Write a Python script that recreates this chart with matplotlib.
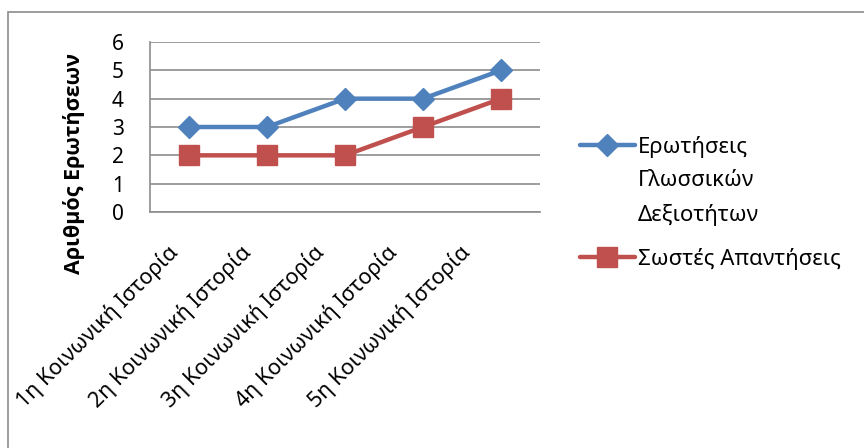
import matplotlib
matplotlib.use("Agg")
import matplotlib.pyplot as plt
import matplotlib.transforms as mtransforms
from matplotlib.patches import Rectangle
from matplotlib.lines import Line2D

plt.rcParams['font.family'] = ['Noto Sans', 'DejaVu Sans']

categories = ["1η Κοινωνική Ιστορία", "2η Κοινωνική Ιστορία", "3η Κοινωνική Ιστορία",
              "4η Κοινωνική Ιστορία", "5η Κοινωνική Ιστορία"]
questions = [3, 3, 4, 4, 5]
correct = [2, 2, 2, 3, 4]
y_ticks = [0, 1, 2, 3, 4, 5, 6]
series_names = ["Ερωτήσεις\nΓλωσσικών\nΔεξιοτήτων", "Σωστές Απαντήσεις"]
y_label = "Αριθμός Ερωτήσεων"

blue = "#4F81BD"
red = "#C0504D"
W, H = 864, 448

fig = plt.figure(figsize=(W / 100, H / 100), dpi=100)
ax = fig.add_axes([150 / W, 1 - 212 / H, 390 / W, 170 / H])

x = list(range(len(categories)))
ax.plot(x, questions, color=blue, lw=3.2, marker='D', ms=11, solid_joinstyle='round')
ax.plot(x, correct, color=red, lw=3.2, marker='s', ms=14, solid_joinstyle='round')

ax.set_xlim(-0.5, len(categories) - 0.5)
ax.set_ylim(0, 6)
ax.set_yticks(y_ticks)
ax.set_yticklabels([str(v) for v in y_ticks], fontsize=15)
ax.set_xticks(x)
ax.set_xticklabels(categories, rotation=45, ha='right', va='center',
                   rotation_mode='anchor', fontsize=15.5)
ax.tick_params(axis='both', length=0)
ax.tick_params(axis='x', pad=27)
ax.tick_params(axis='y', pad=19)
# rotated category labels sit slightly tighter than the category spacing
for i, lbl in enumerate(ax.get_xticklabels()):
    shift = mtransforms.ScaledTranslation((-14 - 5 * i) / 100, 0, fig.dpi_scale_trans)
    lbl.set_transform(lbl.get_transform() + shift)
ax.grid(axis='y', color='#8c8c8c', lw=1.2)
ax.set_axisbelow(True)
for s in ['top', 'right']:
    ax.spines[s].set_visible(False)
for s in ['left', 'bottom']:
    ax.spines[s].set_color('#8c8c8c')
    ax.spines[s].set_linewidth(1.2)

fig.text(74 / W, 1 - 163 / H, y_label, rotation=90, ha='center', va='center',
         fontsize=15.5, fontweight='bold', family=['Open Sans', 'DejaVu Sans'])

# legend drawn in figure coordinates
def fx(px):
    return px / W

def fy(py):
    return 1 - py / H

for (color, marker, ms, name, ly) in [(blue, 'D', 11, series_names[0], 145),
                                      (red, 's', 14, series_names[1], 257)]:
    fig.add_artist(Line2D([fx(580), fx(635)], [fy(ly), fy(ly)], color=color, lw=3.2,
                          solid_capstyle='round'))
    fig.add_artist(Line2D([fx(607)], [fy(ly)], color=color, marker=marker, ms=ms))
    for i, line in enumerate(name.split("\n")):
        fig.text(fx(638), fy(ly + 33.5 * i), line, ha='left', va='center_baseline',
                 fontsize=16)

# chart frame
fig.add_artist(Rectangle((fx(8), fy(500)), 1.2, fy(12) - fy(500), transform=fig.transFigure,
                         fill=False, edgecolor='#8c8c8c', lw=1.2))

fig.savefig("out.png", dpi=100)
